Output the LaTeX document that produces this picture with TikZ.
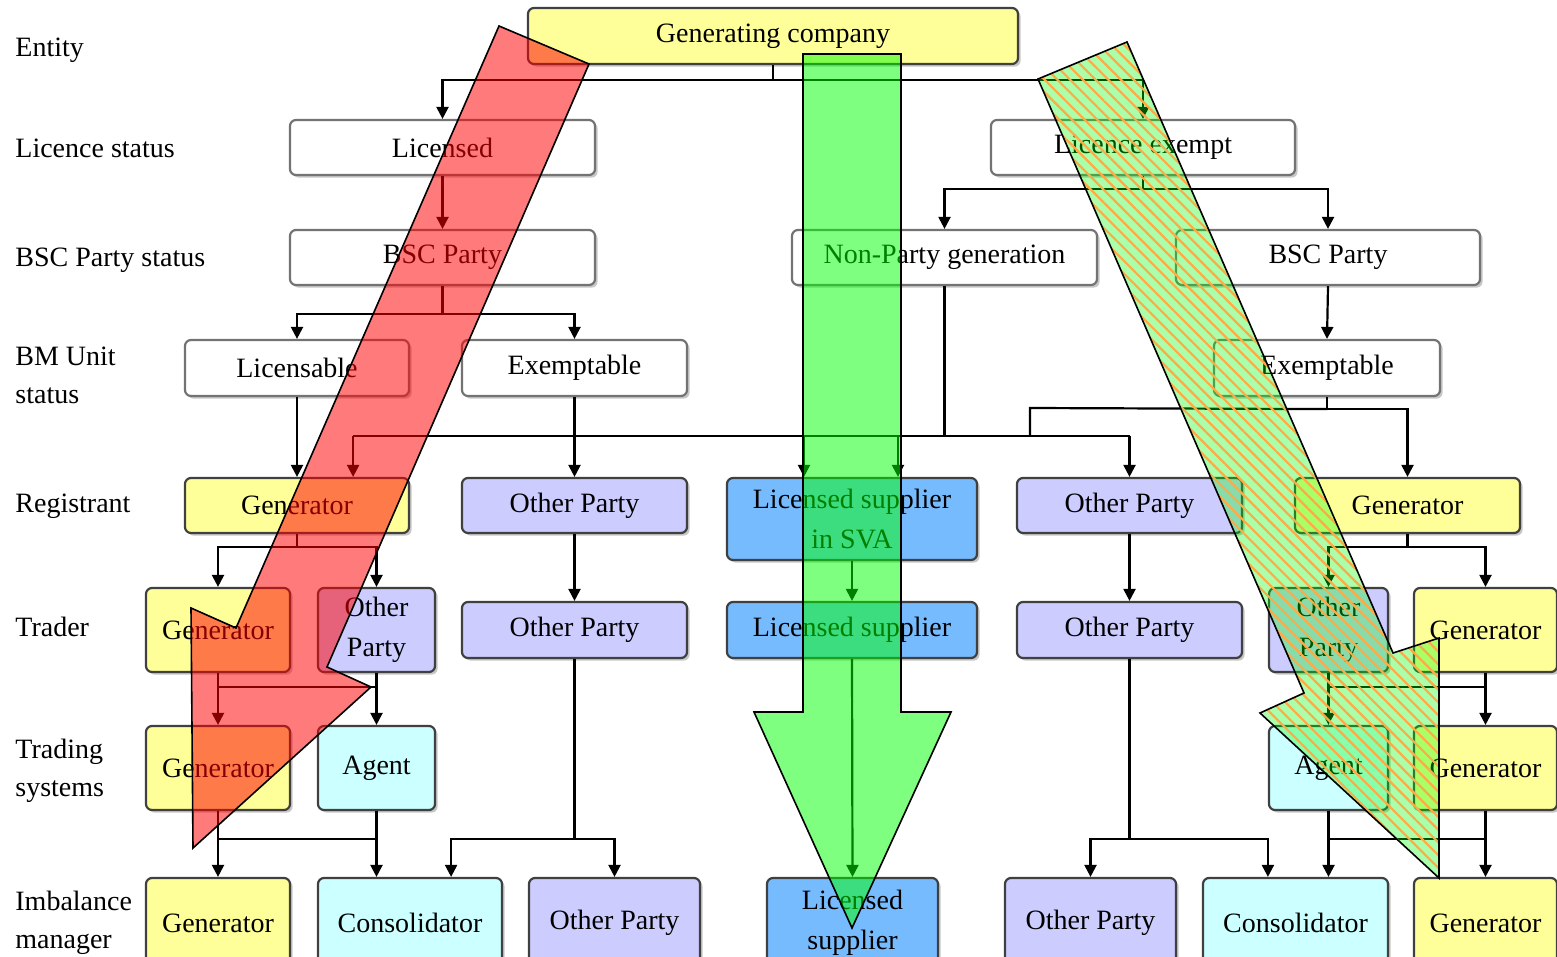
\documentclass[tikz,border=0pt]{standalone}
\usepackage{fontspec}
\setmainfont{Liberation Serif}
\usetikzlibrary{arrows.meta,shadows,patterns.meta,calc}
\definecolor{cyel}{RGB}{255,255,153}
\definecolor{clav}{RGB}{204,204,255}
\definecolor{ccyan}{RGB}{204,255,255}
\definecolor{cblue}{RGB}{119,187,255}
\definecolor{corange}{RGB}{255,170,70}
\begin{document}
\begin{tikzpicture}[x=0.5pt,y=-0.5pt,
  box/.style={draw=black!55, line width=1.1pt, rounded corners=3pt, inner sep=0pt,
    align=center, font=\fontsize{14}{20}\selectfont, fill=white,
    drop shadow={shadow xshift=1.3pt, shadow yshift=-1.3pt, fill=black!22, opacity=1}},
  cbox/.style={box, draw=black!75},
  sz/.style 2 args={minimum width={0.5pt*#1}, minimum height={0.5pt*#2}},
  rowlabel/.style={anchor=west, align=left, inner sep=0pt, font=\fontsize{14}{19}\selectfont},
  ln/.style={line width=1.1pt},
  arr/.style={line width=1.1pt, -{Triangle[width=6pt,length=6pt]}},
  overlayline/.style={draw=black, line width=0.8pt, line join=miter}
]
\clip (0,0) rectangle (1557,957);
\fill[white] (0,0) rectangle (1557,957);

% row labels
\node[rowlabel] (l1) at (15,50) {Entity};
\node[rowlabel] (l2) at (15,148) {Licence status};
\node[rowlabel] (l3) at (15,260) {BSC Party status};
\node[rowlabel] (l4) at (15,375) {BM Unit\\status};
\node[rowlabel] (l5) at (15,506) {Registrant};
\node[rowlabel] (l6) at (15,627) {Trader};
\node[rowlabel] (l7) at (15,771) {Trading\\systems};
\node[rowlabel] (l8) at (15,923) {Imbalance\\manager};

% boxes
\node[cbox, fill=cyel, sz={490}{56}] (gc) at (773,36) {Generating company};
\node[box, sz={305}{55}] (lic) at (442.5,147.5) {Licensed};
\node[box, sz={304}{55}] (lex) at (1143,147.5) {Licence exempt};
\node[box, sz={305}{55}] (bscL) at (442.5,257.5) {BSC Party};
\node[box, sz={305}{55}] (npg) at (944.5,257.5) {Non-Party generation};
\node[box, sz={304}{55}] (bscR) at (1328,257.5) {BSC Party};
\node[box, sz={224}{56}] (lcb) at (297,368) {Licensable};
\node[box, sz={225}{56}] (exL) at (574.5,368) {Exemptable};
\node[box, sz={226}{56}] (exR) at (1327,368) {Exemptable};

\node[cbox, fill=cyel, sz={224}{55}] (rgen) at (297,505.5) {Generator};
\node[cbox, fill=clav, sz={225}{55}] (rop1) at (574.5,505.5) {Other Party};
\node[cbox, fill=cblue, sz={250}{82}] (sva) at (852,519) {Licensed supplier\\in SVA};
\node[cbox, fill=clav, sz={225}{55}] (rop2) at (1129.5,505.5) {Other Party};
\node[cbox, fill=cyel, sz={225}{55}] (rgen2) at (1407.5,505.5) {Generator};

\node[cbox, fill=cyel, sz={144}{84}] (tgen1) at (218,630) {Generator};
\node[cbox, fill=clav, sz={117}{84}] (top1) at (376.5,630) {Other\\Party};
\node[cbox, fill=clav, sz={225}{56}] (top2) at (574.5,630) {Other Party};
\node[cbox, fill=cblue, sz={250}{56}] (tls) at (852,630) {Licensed supplier};
\node[cbox, fill=clav, sz={225}{56}] (top3) at (1129.5,630) {Other Party};
\node[cbox, fill=clav, sz={119}{84}] (top4) at (1328.5,630) {Other\\Party};
\node[cbox, fill=cyel, sz={143}{84}] (tgen2) at (1485.5,630) {Generator};

\node[cbox, fill=cyel, sz={144}{84}] (sgen1) at (218,768) {Generator};
\node[cbox, fill=ccyan, sz={117}{84}] (sag1) at (376.5,768) {Agent};
\node[cbox, fill=ccyan, sz={119}{84}] (sag2) at (1328.5,768) {Agent};
\node[cbox, fill=cyel, sz={143}{84}] (sgen2) at (1485.5,768) {Generator};

\node[cbox, fill=cyel, sz={144}{90}] (igen1) at (218,923) {Generator};
\node[cbox, fill=ccyan, sz={184}{90}] (icons1) at (410,923) {Consolidator};
\node[cbox, fill=clav, sz={171}{90}] (iop1) at (614.5,923) {Other Party};
\node[cbox, fill=cblue, sz={171}{90}] (ils) at (852.5,923) {Licensed\\supplier};
\node[cbox, fill=clav, sz={171}{90}] (iop2) at (1090.5,923) {Other Party};
\node[cbox, fill=ccyan, sz={185}{90}] (icons2) at (1295.5,923) {Consolidator};
\node[cbox, fill=cyel, sz={143}{90}] (igen2) at (1485.5,923) {Generator};

% connectors
\draw[ln] (gc.south) -- ++(0,15) coordinate (j1);
\draw[arr] (j1) -| (lic.north);
\draw[arr] (j1) -| (lex.north);
\draw[arr] (lic.south) -- (bscL.north);
\draw[ln] (bscL.south) -- ++(0,28) coordinate (j2);
\draw[arr] (j2) -| (lcb.north);
\draw[arr] (j2) -| (exL.north);
\draw[ln] (lex.south) -- ++(0,13) coordinate (j3);
\draw[arr] (j3) -| (npg.north);
\draw[arr] (j3) -| (bscR.north);
\draw[arr] (bscR.south) -- (exR.north);
\draw[arr] (lcb.south) -- (rgen.north);
\draw[arr] (exL.south) -- (rop1.north);

% long bus
\coordinate (rgenB) at ($(rgen.north east)+(-57,0)$);
\coordinate (svaA) at ($(sva.north)+(-48,0)$);
\coordinate (svaB) at ($(sva.north)+(46,0)$);
\coordinate (busy) at (0,436);
\draw[ln] (npg.south) -- (npg.south |- busy);
\draw[ln] (rgenB |- busy) -- (rop2.north |- busy);
\draw[arr] (rgenB |- busy) -- (rgenB);
\draw[arr] (svaA |- busy) -- (svaA);
\draw[arr] (svaB |- busy) -- (svaB);
\draw[arr] (rop2.north |- busy) -- (rop2.north);
\draw[ln] (exR.south) -- ++(0,12) coordinate (j4);
\coordinate (j4L) at (1030,408);
\draw[ln] (j4L |- busy) -- (j4L) -- (j4);
\draw[arr] (j4) -| (rgen2.north);

% registrant -> trader
\draw[ln] (rgen.south) -- ++(0,13) coordinate (j5);
\draw[arr] (j5) -| (tgen1.north);
\draw[arr] (j5) -| (top1.north);
\draw[arr] (rop1.south) -- (top2.north);
\draw[arr] (sva.south) -- (tls.north);
\draw[arr] (rop2.south) -- (top3.north);
\draw[ln] (rgen2.south) -- ++(0,13) coordinate (j6);
\draw[arr] (j6) -| (top4.north);
\draw[arr] (j6) -| (tgen2.north);

% trader -> trading systems
\draw[arr] (tgen1.south) -- (sgen1.north);
\draw[arr] (top1.south) -- (sag1.north);
\draw[ln] ($(tgen1.south)+(0,14)$) -- ($(top1.south)+(0,14)$);
\draw[arr] (top4.south) -- (sag2.north);
\draw[arr] (tgen2.south) -- (sgen2.north);
\draw[ln] ($(top4.south)+(0,14)$) -- ($(tgen2.south)+(0,14)$);

% trading systems -> imbalance
\draw[arr] (sgen1.south) -- (igen1.north);
\draw[arr] (sag1.south) -- (sag1.south |- icons1.north);
\draw[ln] ($(sgen1.south)+(0,28)$) -- ($(sag1.south)+(0,28)$);
\coordinate (icA) at ($(icons1.north east)+(-52,0)$);
\draw[ln] (top2.south) -- ++(0,180) coordinate (j7);
\draw[arr] (j7) -| (icA);
\draw[arr] (j7) -| (iop1.north);
\draw[arr] (tls.south) -- (ils.north);
\coordinate (icB) at ($(icons2.north west)+(66,0)$);
\draw[ln] (top3.south) -- ++(0,180) coordinate (j8);
\draw[arr] (j8) -| (iop2.north);
\draw[arr] (j8) -| (icB);
\draw[arr] (sag2.south) -- (sag2.south |- icons2.north);
\draw[arr] (sgen2.south) -- (igen2.north);
\draw[ln] ($(sag2.south)+(0,28)$) -- ($(sgen2.south)+(0,28)$);

% overlays
\fill[red, fill opacity=0.52] (499,26) -- (589,64) -- (327,667) -- (371,687) -- (193,848) -- (191,608) -- (236,628) -- cycle;
\draw[overlayline] (499,26) -- (589,64) -- (327,667) -- (371,687) -- (193,848) -- (191,608) -- (236,628) -- cycle;

\fill[green, fill opacity=0.5] (803,54) -- (901,54) -- (901,712) -- (951,712) -- (852,928) -- (754,712) -- (803,712) -- cycle;
\draw[overlayline] (803,54) -- (901,54) -- (901,712) -- (951,712) -- (852,928) -- (754,712) -- (803,712) -- cycle;

\fill[green, fill opacity=0.33] (1038,79) -- (1127,42) -- (1393,653) -- (1439,638) -- (1439,878) -- (1260,713) -- (1304,693) -- cycle;
\fill[pattern={Lines[angle=-45,distance=4.5pt,line width=1.1pt]}, pattern color=corange, fill opacity=0.45] (1038,79) -- (1127,42) -- (1393,653) -- (1439,638) -- (1439,878) -- (1260,713) -- (1304,693) -- cycle;
\draw[overlayline] (1038,79) -- (1127,42) -- (1393,653) -- (1439,638) -- (1439,878) -- (1260,713) -- (1304,693) -- cycle;
\end{tikzpicture}
\end{document}
